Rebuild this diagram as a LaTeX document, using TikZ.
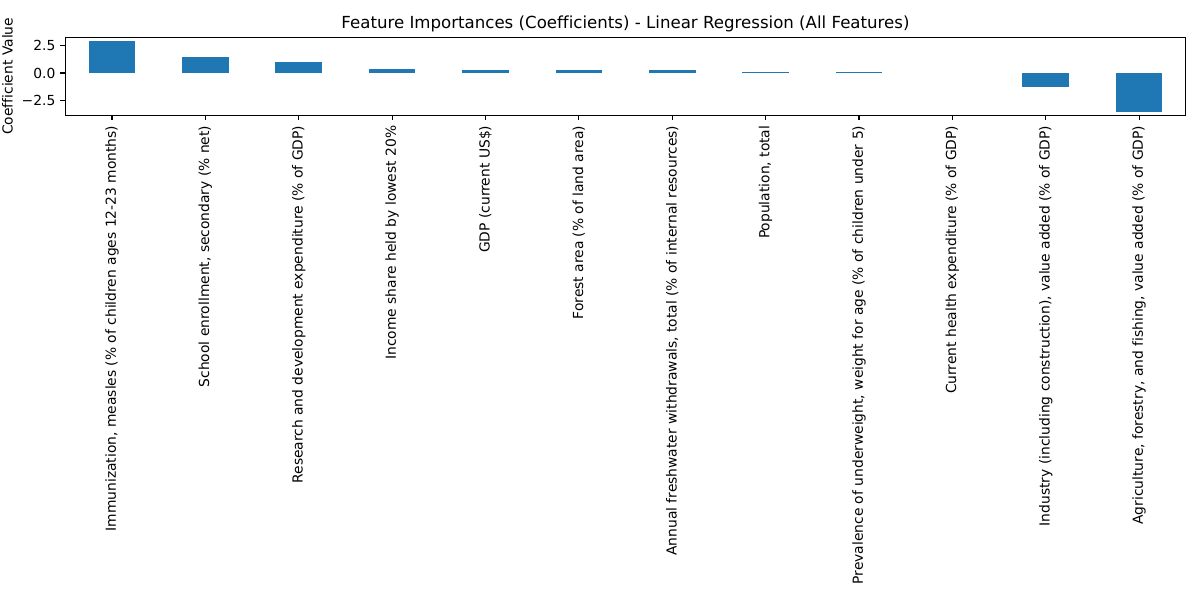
\documentclass[tikz,border=0pt]{standalone}
\usepackage{fontspec}
\setmainfont{DejaVu Sans}[Ligatures=NoCommon]
\usetikzlibrary{positioning}
\definecolor{mblue}{HTML}{1F77B4}
\tikzstyle{bar}=[fill=mblue, draw=none]
\tikzstyle{spine}=[draw=black, line width=0.8pt]
\tikzstyle{tickmark}=[draw=black, line width=0.8pt]
\tikzstyle{xlbl}=[rotate=90, anchor=east, inner sep=0pt, font=\fontsize{10}{12}\selectfont]
\tikzstyle{ylbl}=[anchor=east, inner sep=0pt, font=\fontsize{10}{12}\selectfont]

\begin{document}
\begin{tikzpicture}[x=0.01in, y=-0.01in]

    \useasboundingbox (0,0) rectangle (1200,600);

    \coordinate (nw) at (65.3,37.3);
    \coordinate (se) at (1185.7,115.3);

    % bars, value -> pixel: 73 - 10.93*v (bar 9 is zero)
    \foreach \i/\v in {0/2.93, 1/1.46, 2/1.0, 3/0.37, 4/0.27, 5/0.27, 6/0.27, 7/0.08, 8/0.08, 10/-1.28, 11/-3.54}{
        \pgfmathsetmacro{\xc}{65.3+93.37*(\i+0.5)}
        \pgfmathsetmacro{\yv}{73-10.93*\v}
        \fill[bar] (\xc-23.34,73) rectangle (\xc+23.34,\yv);
    }

    \draw[spine] (nw) rectangle (se);

    % x ticks and labels
    \foreach \i/\t in {0/{Immunization, measles (\% of children ages 12-23 months)},
                       1/{School enrollment, secondary (\% net)},
                       2/{Research and development expenditure (\% of GDP)},
                       3/{Income share held by lowest 20\%},
                       4/{GDP (current US\$)},
                       5/{Forest area (\% of land area)},
                       6/{Annual freshwater withdrawals, total (\% of internal resources)},
                       7/{Population, total},
                       8/{Prevalence of underweight, weight for age (\% of children under 5)},
                       9/{Current health expenditure (\% of GDP)},
                       10/{Industry (including construction), value added (\% of GDP)},
                       11/{Agriculture, forestry, and fishing, value added (\% of GDP)}}{
        \pgfmathsetmacro{\xc}{65.3+93.37*(\i+0.5)}
        \coordinate (tick\i) at (\xc,115.3);
        \draw[tickmark] (tick\i) -- +(0,4.86);
        \node[xlbl] (lbl\i) at (\xc,125.5) {\t};
    }

    % y ticks and labels
    \foreach \v/\t in {2.5/2.5, 0/0.0, -2.5/−2.5}{
        \pgfmathsetmacro{\yv}{73-10.93*\v}
        \coordinate (ytick) at (65.3,\yv);
        \draw[tickmark] (ytick) -- +(-4.86,0);
        \node[ylbl] at (55.6,\yv) {\t};
    }

    \node[rotate=90, font=\fontsize{10}{12}\selectfont] (ylab) at (7.5,76.3) {Coefficient Value};
    \node[font=\fontsize{12}{14}\selectfont] (title) at (625.5,23.5) {Feature Importances (Coefficients) - Linear Regression (All Features)};

\end{tikzpicture}
\end{document}
